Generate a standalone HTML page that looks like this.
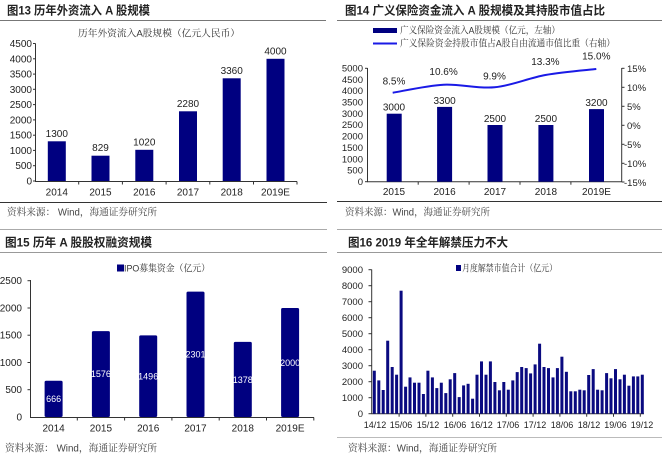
<!DOCTYPE html>
<html><head><meta charset="utf-8">
<style>
html,body{margin:0;padding:0;background:#fff;}
svg{display:block;}
.t{font-family:"Liberation Sans","Noto Sans CJK SC",sans-serif;font-weight:bold;font-size:12px;fill:#222;}
.k{font-family:"Liberation Sans","Noto Serif CJK SC",serif;font-size:9.5px;fill:#333;}
.s{font-family:"Liberation Sans","Noto Serif CJK SC",serif;font-size:10px;fill:#444;}
.a{font-family:"Liberation Sans",sans-serif;font-size:10px;fill:#222;}
.a9{font-family:"Liberation Sans",sans-serif;font-size:9.5px;fill:#222;}
.x9{font-family:"Liberation Sans",sans-serif;font-size:9px;fill:#222;}
.w{font-family:"Liberation Sans",sans-serif;font-size:9px;fill:#fff;}
</style></head>
<body>
<svg width="662" height="459" viewBox="0 0 662 459" xmlns="http://www.w3.org/2000/svg">
<rect width="662" height="459" fill="#fff"/>

<g stroke-width="1" fill="none">
<line x1="0" y1="20.5" x2="326" y2="20.5" stroke="#777"/>
<line x1="337" y1="20.5" x2="662" y2="20.5" stroke="#777"/>
<line x1="0" y1="202.5" x2="327" y2="202.5" stroke="#333"/>
<line x1="337" y1="201.5" x2="662" y2="201.5" stroke="#333"/>
<line x1="0" y1="229.5" x2="327" y2="229.5" stroke="#aaa"/>
<line x1="337" y1="229.5" x2="662" y2="229.5" stroke="#aaa"/>
<line x1="0" y1="252.5" x2="327" y2="252.5" stroke="#999"/>
<line x1="337" y1="252.5" x2="662" y2="252.5" stroke="#999"/>
<line x1="337" y1="437.5" x2="662" y2="437.5" stroke="#bbb"/>
</g>

<text class="t" x="7" y="14.5" textLength="143" lengthAdjust="spacingAndGlyphs">图13 历年外资流入 A 股规模</text>
<text class="t" x="345" y="14.5" textLength="260" lengthAdjust="spacingAndGlyphs">图14 广义保险资金流入 A 股规模及其持股市值占比</text>
<text class="t" x="5" y="246.5" textLength="147" lengthAdjust="spacingAndGlyphs">图15 历年 A 股股权融资规模</text>
<text class="t" x="348" y="246.5" textLength="160" lengthAdjust="spacingAndGlyphs">图16 2019 年全年解禁压力不大</text>

<text class="s" x="7" y="215.5" textLength="150" lengthAdjust="spacingAndGlyphs">资料来源： Wind，海通证券研究所</text>
<text class="s" x="345" y="215.5" textLength="145" lengthAdjust="spacingAndGlyphs">资料来源：Wind，海通证券研究所</text>
<text class="s" x="5" y="451.5" textLength="152" lengthAdjust="spacingAndGlyphs">资料来源： Wind，海通证券研究所</text>
<text class="s" x="348" y="451.5" textLength="149" lengthAdjust="spacingAndGlyphs">资料来源：Wind，海通证券研究所</text>

<!-- Panel 1 -->
<text class="k" x="159" y="36.5" text-anchor="middle" textLength="162" lengthAdjust="spacingAndGlyphs">历年外资流入A股规模（亿元人民币）</text>
<g stroke="#333" stroke-width="1" fill="none">
<line x1="35.5" y1="43.5" x2="35.5" y2="181.5"/>
<line x1="35" y1="181.5" x2="297" y2="181.5"/>
<line x1="33" y1="43.5" x2="35.5" y2="43.5"/>
<line x1="33" y1="58.8" x2="35.5" y2="58.8"/>
<line x1="33" y1="74.1" x2="35.5" y2="74.1"/>
<line x1="33" y1="89.3" x2="35.5" y2="89.3"/>
<line x1="33" y1="104.6" x2="35.5" y2="104.6"/>
<line x1="33" y1="119.9" x2="35.5" y2="119.9"/>
<line x1="33" y1="135.2" x2="35.5" y2="135.2"/>
<line x1="33" y1="150.4" x2="35.5" y2="150.4"/>
<line x1="33" y1="165.7" x2="35.5" y2="165.7"/>
<line x1="33" y1="181" x2="35.5" y2="181"/>
<line x1="78.7" y1="181.5" x2="78.7" y2="184.5"/>
<line x1="122.4" y1="181.5" x2="122.4" y2="184.5"/>
<line x1="166.1" y1="181.5" x2="166.1" y2="184.5"/>
<line x1="209.8" y1="181.5" x2="209.8" y2="184.5"/>
<line x1="253.5" y1="181.5" x2="253.5" y2="184.5"/>
<line x1="297" y1="181.5" x2="297" y2="184.5"/>
</g>
<g class="a" text-anchor="end">
<text x="32" y="47">4500</text><text x="32" y="62.3">4000</text><text x="32" y="77.6">3500</text>
<text x="32" y="92.8">3000</text><text x="32" y="108.1">2500</text><text x="32" y="123.4">2000</text>
<text x="32" y="138.7">1500</text><text x="32" y="153.9">1000</text><text x="32" y="169.2">500</text>
<text x="32" y="184.5">0</text>
</g>
<g fill="#000080">
<rect x="47.8" y="141.3" width="18" height="39.7"/>
<rect x="91.5" y="155.7" width="18" height="25.3"/>
<rect x="135.3" y="149.8" width="18" height="31.2"/>
<rect x="179" y="111.3" width="18" height="69.7"/>
<rect x="222.7" y="78.3" width="18" height="102.7"/>
<rect x="266.5" y="58.8" width="18" height="122.2"/>
</g>
<g class="a" text-anchor="middle">
<text x="56.8" y="136.8">1300</text><text x="100.5" y="151.2">829</text><text x="144.3" y="145.3">1020</text>
<text x="188" y="106.8">2280</text><text x="231.7" y="73.8">3360</text><text x="275.5" y="54.3">4000</text>
<text x="56.8" y="195.5">2014</text><text x="100.5" y="195.5">2015</text><text x="144.3" y="195.5">2016</text>
<text x="188" y="195.5">2017</text><text x="231.7" y="195.5">2018</text><text x="275.5" y="195.5">2019E</text>
</g>

<!-- Panel 2 -->
<rect x="373" y="28" width="24" height="5" fill="#000080"/>
<line x1="373" y1="43.5" x2="397" y2="43.5" stroke="#1a1ae6" stroke-width="2"/>
<text class="k" x="400" y="33.5" textLength="160" lengthAdjust="spacingAndGlyphs">广义保险资金流入A股规模（亿元，左轴）</text>
<text class="k" x="400" y="46.5" textLength="215" lengthAdjust="spacingAndGlyphs">广义保险资金持股市值占A股自由流通市值比重（右轴）</text>
<g stroke="#333" stroke-width="1" fill="none">
<line x1="367.5" y1="68" x2="367.5" y2="182"/>
<line x1="367" y1="181.7" x2="622" y2="181.7"/>
<line x1="621.7" y1="68" x2="621.7" y2="182"/>
<line x1="365" y1="68.3" x2="367.5" y2="68.3"/>
<line x1="365" y1="181.7" x2="367.5" y2="181.7"/>
<line x1="621.7" y1="68.3" x2="624.5" y2="68.3"/>
<line x1="621.7" y1="87.3" x2="624.5" y2="87.3"/>
<line x1="621.7" y1="106.3" x2="624.5" y2="106.3"/>
<line x1="621.7" y1="125.3" x2="624.5" y2="125.3"/>
<line x1="621.7" y1="144.3" x2="624.5" y2="144.3"/>
<line x1="621.7" y1="163.3" x2="624.5" y2="163.3"/>
<line x1="621.7" y1="182" x2="624.5" y2="182"/>
<line x1="418.2" y1="181.7" x2="418.2" y2="184.7"/>
<line x1="469.1" y1="181.7" x2="469.1" y2="184.7"/>
<line x1="520" y1="181.7" x2="520" y2="184.7"/>
<line x1="570.9" y1="181.7" x2="570.9" y2="184.7"/>
</g>
<g class="a9" text-anchor="end">
<text x="363" y="71.5">5000</text><text x="363" y="82.8">4500</text><text x="363" y="94.2">4000</text>
<text x="363" y="105.5">3500</text><text x="363" y="116.9">3000</text><text x="363" y="128.2">2500</text>
<text x="363" y="139.6">2000</text><text x="363" y="150.9">1500</text><text x="363" y="162.3">1000</text>
<text x="363" y="173.6">500</text><text x="363" y="185">0</text>
</g>
<g class="a9">
<text x="627" y="71.8">15%</text><text x="627" y="90.8">10%</text><text x="627" y="109.8">5%</text>
<text x="627" y="128.8">0%</text><text x="624" y="147.8">-5%</text><text x="624" y="166.8">-10%</text>
<text x="624" y="185.8">-15%</text>
</g>
<g fill="#000080">
<rect x="386.7" y="113.7" width="15" height="68"/>
<rect x="437.1" y="106.9" width="15" height="74.8"/>
<rect x="487.5" y="125" width="15" height="56.7"/>
<rect x="538.4" y="125" width="15" height="56.7"/>
<rect x="589" y="109.1" width="15" height="72.6"/>
</g>
<path d="M392.7,92.7 C401.2,91.4 426.6,85.6 443.6,84.7 C460.6,83.8 477.5,88.9 494.5,87.3 C511.5,85.7 528.4,78.05 545.4,75 C562.4,71.95 587.8,70 596.3,69" fill="none" stroke="#1a1ae6" stroke-width="2"/>
<g class="a" text-anchor="middle">
<text x="394" y="110.7">3000</text><text x="444.6" y="103.9">3300</text><text x="495" y="122">2500</text>
<text x="545.9" y="122">2500</text><text x="596.5" y="106.1">3200</text>
<text x="394" y="84.5">8.5%</text><text x="443.6" y="75.2">10.6%</text><text x="494.5" y="79.5">9.9%</text>
<text x="545.4" y="65.2">13.3%</text><text x="596.3" y="59.5">15.0%</text>
<text x="394" y="195">2015</text><text x="444.6" y="195">2016</text><text x="495" y="195">2017</text>
<text x="545.9" y="195">2018</text><text x="596.5" y="195">2019E</text>
</g>

<!-- Panel 3 -->
<rect x="117" y="264.5" width="7" height="7" fill="#000080"/>
<text class="k" x="124" y="271.5" textLength="86" lengthAdjust="spacingAndGlyphs">IPO募集资金（亿元）</text>
<g stroke="#333" stroke-width="1" fill="none">
<line x1="30.5" y1="280" x2="30.5" y2="417.5"/>
<line x1="30" y1="417.5" x2="314" y2="417.5"/>
<line x1="27.5" y1="280.7" x2="30.5" y2="280.7"/>
<line x1="27.5" y1="308" x2="30.5" y2="308"/>
<line x1="27.5" y1="335.2" x2="30.5" y2="335.2"/>
<line x1="27.5" y1="362.5" x2="30.5" y2="362.5"/>
<line x1="27.5" y1="389.7" x2="30.5" y2="389.7"/>
<line x1="77.3" y1="417.5" x2="77.3" y2="420.5"/>
<line x1="124.6" y1="417.5" x2="124.6" y2="420.5"/>
<line x1="171.9" y1="417.5" x2="171.9" y2="420.5"/>
<line x1="219.2" y1="417.5" x2="219.2" y2="420.5"/>
<line x1="266.5" y1="417.5" x2="266.5" y2="420.5"/>
<line x1="313.8" y1="417.5" x2="313.8" y2="420.5"/>
</g>
<g class="a" text-anchor="end">
<text x="22" y="284.2">2500</text><text x="22" y="311.5">2000</text><text x="22" y="338.7">1500</text>
<text x="22" y="366">1000</text><text x="22" y="393.2">500</text><text x="22" y="420.5">0</text>
</g>
<g fill="#000080">
<rect x="44.6" y="380.7" width="18" height="36.3" rx="1.5"/>
<rect x="91.9" y="331.1" width="18" height="85.9" rx="1.5"/>
<rect x="139.2" y="335.4" width="18" height="81.6" rx="1.5"/>
<rect x="186.5" y="291.6" width="18" height="125.4" rx="1.5"/>
<rect x="233.8" y="341.9" width="18" height="75.1" rx="1.5"/>
<rect x="281.1" y="308" width="18" height="109" rx="1.5"/>
</g>
<g class="w" text-anchor="middle">
<text x="53.6" y="402">666</text><text x="100.9" y="377">1576</text><text x="148.2" y="379.3">1496</text>
<text x="195.5" y="357.3">2301</text><text x="242.8" y="383">1378</text><text x="290.1" y="366">2000</text>
</g>
<g class="a" text-anchor="middle">
<text x="53.6" y="431.5">2014</text><text x="100.9" y="431.5">2015</text><text x="148.2" y="431.5">2016</text>
<text x="195.5" y="431.5">2017</text><text x="242.8" y="431.5">2018</text><text x="290.1" y="431.5">2019E</text>
</g>

<!-- Panel 4 -->
<rect x="456" y="265" width="5" height="6" fill="#000080"/>
<text class="k" x="462" y="271.5" textLength="95" lengthAdjust="spacingAndGlyphs">月度解禁市值合计（亿元）</text>
<g stroke="#333" stroke-width="1" fill="none">
<line x1="371.7" y1="269.5" x2="371.7" y2="414"/>
<line x1="371.5" y1="413.7" x2="644" y2="413.7"/>
<line x1="368.5" y1="269.7" x2="371.7" y2="269.7"/>
<line x1="368.5" y1="285.7" x2="371.7" y2="285.7"/>
<line x1="368.5" y1="301.7" x2="371.7" y2="301.7"/>
<line x1="368.5" y1="317.7" x2="371.7" y2="317.7"/>
<line x1="368.5" y1="333.7" x2="371.7" y2="333.7"/>
<line x1="368.5" y1="349.7" x2="371.7" y2="349.7"/>
<line x1="368.5" y1="365.7" x2="371.7" y2="365.7"/>
<line x1="368.5" y1="381.7" x2="371.7" y2="381.7"/>
<line x1="368.5" y1="397.7" x2="371.7" y2="397.7"/>
<line x1="368.5" y1="413.7" x2="371.7" y2="413.7"/>
<line x1="399.1" y1="413.7" x2="399.1" y2="416.7"/>
<line x1="425.9" y1="413.7" x2="425.9" y2="416.7"/>
<line x1="452.7" y1="413.7" x2="452.7" y2="416.7"/>
<line x1="479.5" y1="413.7" x2="479.5" y2="416.7"/>
<line x1="506.3" y1="413.7" x2="506.3" y2="416.7"/>
<line x1="533.1" y1="413.7" x2="533.1" y2="416.7"/>
<line x1="559.9" y1="413.7" x2="559.9" y2="416.7"/>
<line x1="586.7" y1="413.7" x2="586.7" y2="416.7"/>
<line x1="613.5" y1="413.7" x2="613.5" y2="416.7"/>
<line x1="640.3" y1="413.7" x2="640.3" y2="416.7"/>
</g>
<g class="a9" text-anchor="end">
<text x="363" y="273">9000</text><text x="363" y="289">8000</text><text x="363" y="305">7000</text>
<text x="363" y="321">6000</text><text x="363" y="337">5000</text><text x="363" y="353">4000</text>
<text x="363" y="369">3000</text><text x="363" y="385">2000</text><text x="363" y="401">1000</text>
<text x="363" y="417">0</text>
</g>
<g fill="#0a0a80">
<rect x="372.8" y="370.7" width="3" height="43"/>
<rect x="377.3" y="380.4" width="3" height="33.3"/>
<rect x="381.7" y="390" width="3" height="23.7"/>
<rect x="386.2" y="340.7" width="3" height="73"/>
<rect x="390.7" y="367" width="3" height="46.7"/>
<rect x="395.1" y="374.7" width="3" height="39"/>
<rect x="399.6" y="290.7" width="3" height="123"/>
<rect x="404.1" y="386.7" width="3" height="27"/>
<rect x="408.5" y="377.4" width="3" height="36.3"/>
<rect x="413" y="382.7" width="3" height="31"/>
<rect x="417.5" y="382.7" width="3" height="31"/>
<rect x="421.9" y="394" width="3" height="19.7"/>
<rect x="426.4" y="370.7" width="3" height="43"/>
<rect x="430.9" y="377.4" width="3" height="36.3"/>
<rect x="435.3" y="388.1" width="3" height="25.6"/>
<rect x="439.8" y="382.7" width="3" height="31"/>
<rect x="444.3" y="393.1" width="3" height="20.6"/>
<rect x="448.7" y="379.3" width="3" height="34.4"/>
<rect x="453.2" y="373.1" width="3" height="40.6"/>
<rect x="457.7" y="397.1" width="3" height="16.6"/>
<rect x="462.1" y="385.4" width="3" height="28.3"/>
<rect x="466.6" y="383.8" width="3" height="29.9"/>
<rect x="471.1" y="398.7" width="3" height="15"/>
<rect x="475.5" y="374.7" width="3" height="39"/>
<rect x="480" y="361.4" width="3" height="52.3"/>
<rect x="484.5" y="374.7" width="3" height="39"/>
<rect x="488.9" y="361.4" width="3" height="52.3"/>
<rect x="493.4" y="382" width="3" height="31.7"/>
<rect x="497.9" y="390.3" width="3" height="23.4"/>
<rect x="502.3" y="382" width="3" height="31.7"/>
<rect x="506.8" y="389.7" width="3" height="24"/>
<rect x="511.3" y="380.4" width="3" height="33.3"/>
<rect x="515.7" y="372.1" width="3" height="41.6"/>
<rect x="520.2" y="367" width="3" height="46.7"/>
<rect x="524.7" y="368.1" width="3" height="45.6"/>
<rect x="529.1" y="373.4" width="3" height="40.3"/>
<rect x="533.6" y="364.4" width="3" height="49.3"/>
<rect x="538.1" y="343.7" width="3" height="70"/>
<rect x="542.5" y="367" width="3" height="46.7"/>
<rect x="547" y="368.1" width="3" height="45.6"/>
<rect x="551.5" y="377.4" width="3" height="36.3"/>
<rect x="555.9" y="368.1" width="3" height="45.6"/>
<rect x="560.4" y="356.7" width="3" height="57"/>
<rect x="564.9" y="371.8" width="3" height="41.9"/>
<rect x="569.3" y="391.3" width="3" height="22.4"/>
<rect x="573.8" y="391.3" width="3" height="22.4"/>
<rect x="578.3" y="389.7" width="3" height="24"/>
<rect x="582.7" y="390.3" width="3" height="23.4"/>
<rect x="587.2" y="375" width="3" height="38.7"/>
<rect x="591.7" y="369.1" width="3" height="44.6"/>
<rect x="596.1" y="389.7" width="3" height="24"/>
<rect x="600.6" y="390.3" width="3" height="23.4"/>
<rect x="605.1" y="373.1" width="3" height="40.6"/>
<rect x="609.5" y="378.3" width="3" height="35.4"/>
<rect x="614" y="369.1" width="3" height="44.6"/>
<rect x="618.5" y="379.3" width="3" height="34.4"/>
<rect x="622.9" y="374.7" width="3" height="39"/>
<rect x="627.4" y="385.7" width="3" height="28"/>
<rect x="631.9" y="376.4" width="3" height="37.3"/>
<rect x="636.3" y="376.4" width="3" height="37.3"/>
<rect x="640.8" y="374.7" width="3" height="39"/>
</g>
<g class="x9" text-anchor="middle">
<text x="375" y="428">14/12</text><text x="401" y="428">15/06</text><text x="428" y="428">15/12</text>
<text x="455" y="428">16/06</text><text x="481.5" y="428">16/12</text><text x="508" y="428">17/06</text>
<text x="535" y="428">17/12</text><text x="562" y="428">18/06</text><text x="589" y="428">18/12</text>
<text x="615.5" y="428">19/06</text><text x="642" y="428">19/12</text>
</g>
</svg>
</body></html>
